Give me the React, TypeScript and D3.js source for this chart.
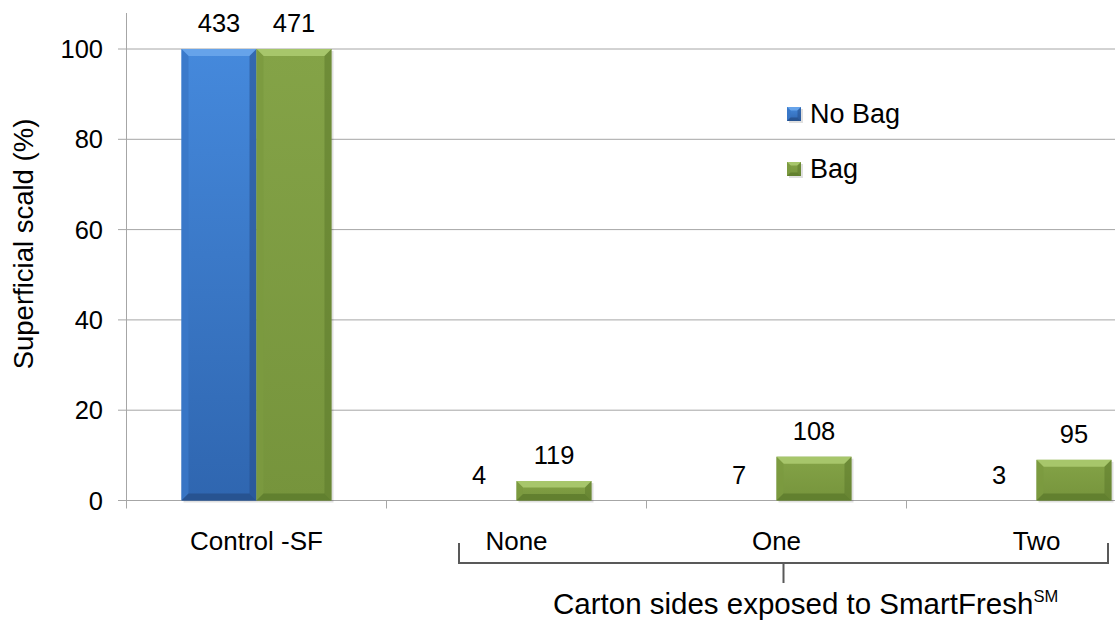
import React from "react";
import * as d3 from "d3";

// Superficial scald incidence by treatment and bagging
const categories = ["Control -SF", "None", "One", "Two"];
const seriesNames = ["No Bag", "Bag"];
const noBagScald = [100, 0, 0, 0];
const bagScald = [100, 4.3, 9.7, 9.0];
const noBagCounts = [433, 4, 7, 3];
const bagCounts = [471, 119, 108, 95];
const yTicks = [0, 20, 40, 60, 80, 100];

const W = 1115;
const H = 624;
const FONT = "'Liberation Sans', Arial, sans-serif";

const palettes = [
  { top: "#4589dc", bottom: "#2f66b0", light: "#66a3ea", dark: "#264f8a", side: "#3a78c8" },
  { top: "#84a347", bottom: "#76943c", light: "#a7c66b", dark: "#5d7a2c", side: "#7b9a40" },
];

function BevelBar({ x, y, w, h, p, id }: { x: number; y: number; w: number; h: number; p: any; id: string }) {
  if (h <= 0) return null;
  const b = Math.min(7, h / 3, w / 4);
  const x2 = x + w;
  const y2 = y + h;
  return (
    <g>
      <rect x={x + 2} y={y + 2} width={w} height={h} fill="#000" opacity={0.12} />
      <rect x={x} y={y} width={w} height={h} fill={`url(#${id})`} />
      <polygon points={`${x},${y} ${x2},${y} ${x2 - b},${y + b} ${x + b},${y + b}`} fill={p.light} />
      <polygon points={`${x},${y} ${x + b},${y + b} ${x + b},${y2 - b} ${x},${y2}`} fill={p.side} opacity={0.85} />
      <polygon points={`${x2},${y} ${x2},${y2} ${x2 - b},${y2 - b} ${x2 - b},${y + b}`} fill={p.dark} opacity={0.55} />
      <polygon points={`${x},${y2} ${x + b},${y2 - b} ${x2 - b},${y2 - b} ${x2},${y2}`} fill={p.dark} opacity={0.8} />
    </g>
  );
}

export default function App() {
  const x0 = 126.5;
  const bandW = 260;
  const xScale = d3
    .scaleBand<string>()
    .domain(categories)
    .range([x0, x0 + bandW * categories.length])
    .paddingInner(0)
    .paddingOuter(0);
  const groupW = 150;
  const xSub = d3.scaleBand<string>().domain(seriesNames).range([0, groupW]);
  const yScale = d3.scaleLinear().domain([0, 100]).range([500.5, 49]);
  const yTop = 13;
  const series = [noBagScald, bagScald];
  const counts = [noBagCounts, bagCounts];

  const boundaries = d3.range(categories.length + 1).map((i) => x0 + i * bandW);

  const bracketL = 459;
  const bracketR = 1108;
  const bracketY = 563;

  return (
    <svg width={W} height={H} style={{ position: "absolute", left: 0, top: 0, background: "#fff" }} fontFamily={FONT}>
      <defs>
        {palettes.map((p, i) => (
          <linearGradient key={i} id={`g${i}`} x1="0" y1="0" x2="0" y2="1">
            <stop offset="0" stopColor={p.top} />
            <stop offset="1" stopColor={p.bottom} />
          </linearGradient>
        ))}
      </defs>

      {/* gridlines */}
      {yTicks.map((t) => (
        <line key={t} x1={118} x2={W} y1={yScale(t)} y2={yScale(t)} stroke="#a6a6a6" strokeWidth={1} />
      ))}
      {/* y axis */}
      <line x1={x0} x2={x0} y1={yTop} y2={yScale(0)} stroke="#a6a6a6" strokeWidth={1} />
      {/* x category ticks */}
      {boundaries.map((bx, i) => (
        <line key={i} x1={bx} x2={bx} y1={yScale(0)} y2={yScale(0) + 8} stroke="#a6a6a6" strokeWidth={1} />
      ))}
      {/* y tick labels */}
      {yTicks.map((t) => (
        <text key={t} x={103} y={yScale(t)} dy="0.36em" textAnchor="end" fontSize={25.5} fill="#000">
          {t}
        </text>
      ))}
      <text
        transform={`translate(33,244) rotate(-90)`}
        textAnchor="middle"
        fontSize={27.5}
        fill="#000"
      >
        Superficial scald (%)
      </text>

      {/* bars */}
      {categories.map((c, ci) => {
        const gx = (xScale(c) as number) + (bandW - groupW) / 2;
        return (
          <g key={c}>
            {seriesNames.map((s, si) => {
              const v = series[si][ci];
              const bx = gx + (xSub(s) as number);
              const by = yScale(v);
              return (
                <BevelBar
                  key={s}
                  x={bx}
                  y={by}
                  w={xSub.bandwidth()}
                  h={yScale(0) - by}
                  p={palettes[si]}
                  id={`g${si}`}
                />
              );
            })}
          </g>
        );
      })}

      {/* value labels */}
      {categories.map((c, ci) => {
        const gx = (xScale(c) as number) + (bandW - groupW) / 2;
        return seriesNames.map((s, si) => {
          const v = series[si][ci];
          const cx = gx + (xSub(s) as number) + xSub.bandwidth() / 2;
          return (
            <text key={c + s} x={cx} y={yScale(v) - 17} textAnchor="middle" fontSize={25.5} fill="#000">
              {counts[si][ci]}
            </text>
          );
        });
      })}

      {/* category labels */}
      {categories.map((c) => (
        <text
          key={c}
          x={(xScale(c) as number) + bandW / 2}
          y={550}
          textAnchor="middle"
          fontSize={26}
          fill="#000"
        >
          {c}
        </text>
      ))}

      {/* legend */}
      {seriesNames.map((s, i) => {
        const ly = 107 + i * 55;
        return (
          <g key={s}>
            <BevelBar x={787} y={ly} w={14} h={14} p={palettes[i]} id={`g${i}`} />
            <text x={810} y={ly + 16} fontSize={27} fill="#000">
              {s}
            </text>
          </g>
        );
      })}

      {/* bracket grouping the exposure categories */}
      <path
        d={`M${bracketL},${bracketY - 20} V${bracketY} H${bracketR} V${bracketY - 20}`}
        fill="none"
        stroke="#595959"
        strokeWidth={2}
      />
      <line
        x1={(bracketL + bracketR) / 2}
        x2={(bracketL + bracketR) / 2}
        y1={bracketY}
        y2={bracketY + 20}
        stroke="#595959"
        strokeWidth={2}
      />
      <text x={553} y={614} fontSize={29.5} fill="#000">
        Carton sides exposed to SmartFresh
        <tspan fontSize={16.5} dy={-12}>
          SM
        </tspan>
      </text>
    </svg>
  );
}
